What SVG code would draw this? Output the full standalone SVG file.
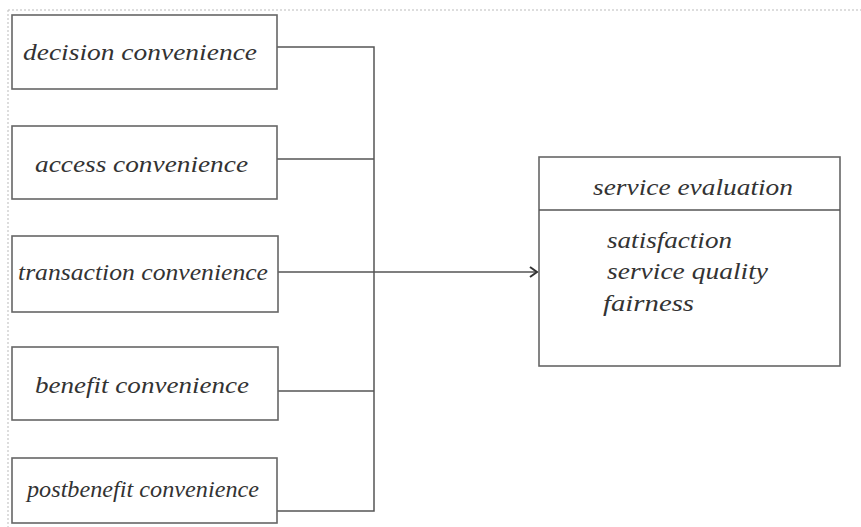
<svg xmlns="http://www.w3.org/2000/svg" width="861" height="527" viewBox="0 0 861 527">
<style>
.box{fill:#fff;stroke:#666;stroke-width:1.6}
.t{font-family:"Liberation Serif","Times New Roman",Times,serif;font-style:italic;font-size:24px;fill:#333}
.c{fill:none;stroke:#555;stroke-width:1.5}
.pg{fill:none;stroke:#bbb;stroke-width:1;stroke-dasharray:2 2}
</style>
<defs>
<marker id="arr" markerWidth="12" markerHeight="12" refX="9" refY="6" orient="auto" markerUnits="userSpaceOnUse">
<path d="M2,1 L9,6 L2,11" fill="none" stroke="#333" stroke-width="2"/>
</marker>
</defs>
<rect width="861" height="527" fill="#fff"/>
<path class="pg" d="M8,10 H861 M8,10 V527"/>
<g id="connectors">
<path class="c" d="M277,47 H374 V511 H277"/>
<path class="c" d="M277,159 H374"/>
<path class="c" d="M277,391 H374"/>
<path class="c" d="M278,272 H537" marker-end="url(#arr)"/>
</g>
<g id="decision"><rect class="box" x="12" y="15" width="265" height="74"/><text class="t" x="23" y="60" textLength="234" lengthAdjust="spacingAndGlyphs">decision convenience</text></g>
<g id="access"><rect class="box" x="12" y="126" width="265" height="73"/><text class="t" x="35" y="172" textLength="213" lengthAdjust="spacingAndGlyphs">access convenience</text></g>
<g id="transaction"><rect class="box" x="12" y="236" width="266" height="76"/><text class="t" x="18" y="280" textLength="250" lengthAdjust="spacingAndGlyphs">transaction convenience</text></g>
<g id="benefit"><rect class="box" x="12" y="347" width="266" height="73"/><text class="t" x="35" y="393" textLength="214" lengthAdjust="spacingAndGlyphs">benefit convenience</text></g>
<g id="postbenefit"><rect class="box" x="12" y="458" width="265" height="65"/><text class="t" x="27" y="497" textLength="232" lengthAdjust="spacingAndGlyphs">postbenefit convenience</text></g>
<g id="service-evaluation">
<rect class="box" x="539" y="157" width="301" height="209"/>
<line class="c" x1="539" y1="210" x2="840" y2="210"/>
<text class="t" x="593" y="195" textLength="200" lengthAdjust="spacingAndGlyphs">service evaluation</text>
<text class="t" x="607" y="248" textLength="125" lengthAdjust="spacingAndGlyphs">satisfaction</text>
<text class="t" x="607" y="279" textLength="161" lengthAdjust="spacingAndGlyphs">service quality</text>
<text class="t" x="603" y="311" textLength="91" lengthAdjust="spacingAndGlyphs">fairness</text>
</g>
</svg>
